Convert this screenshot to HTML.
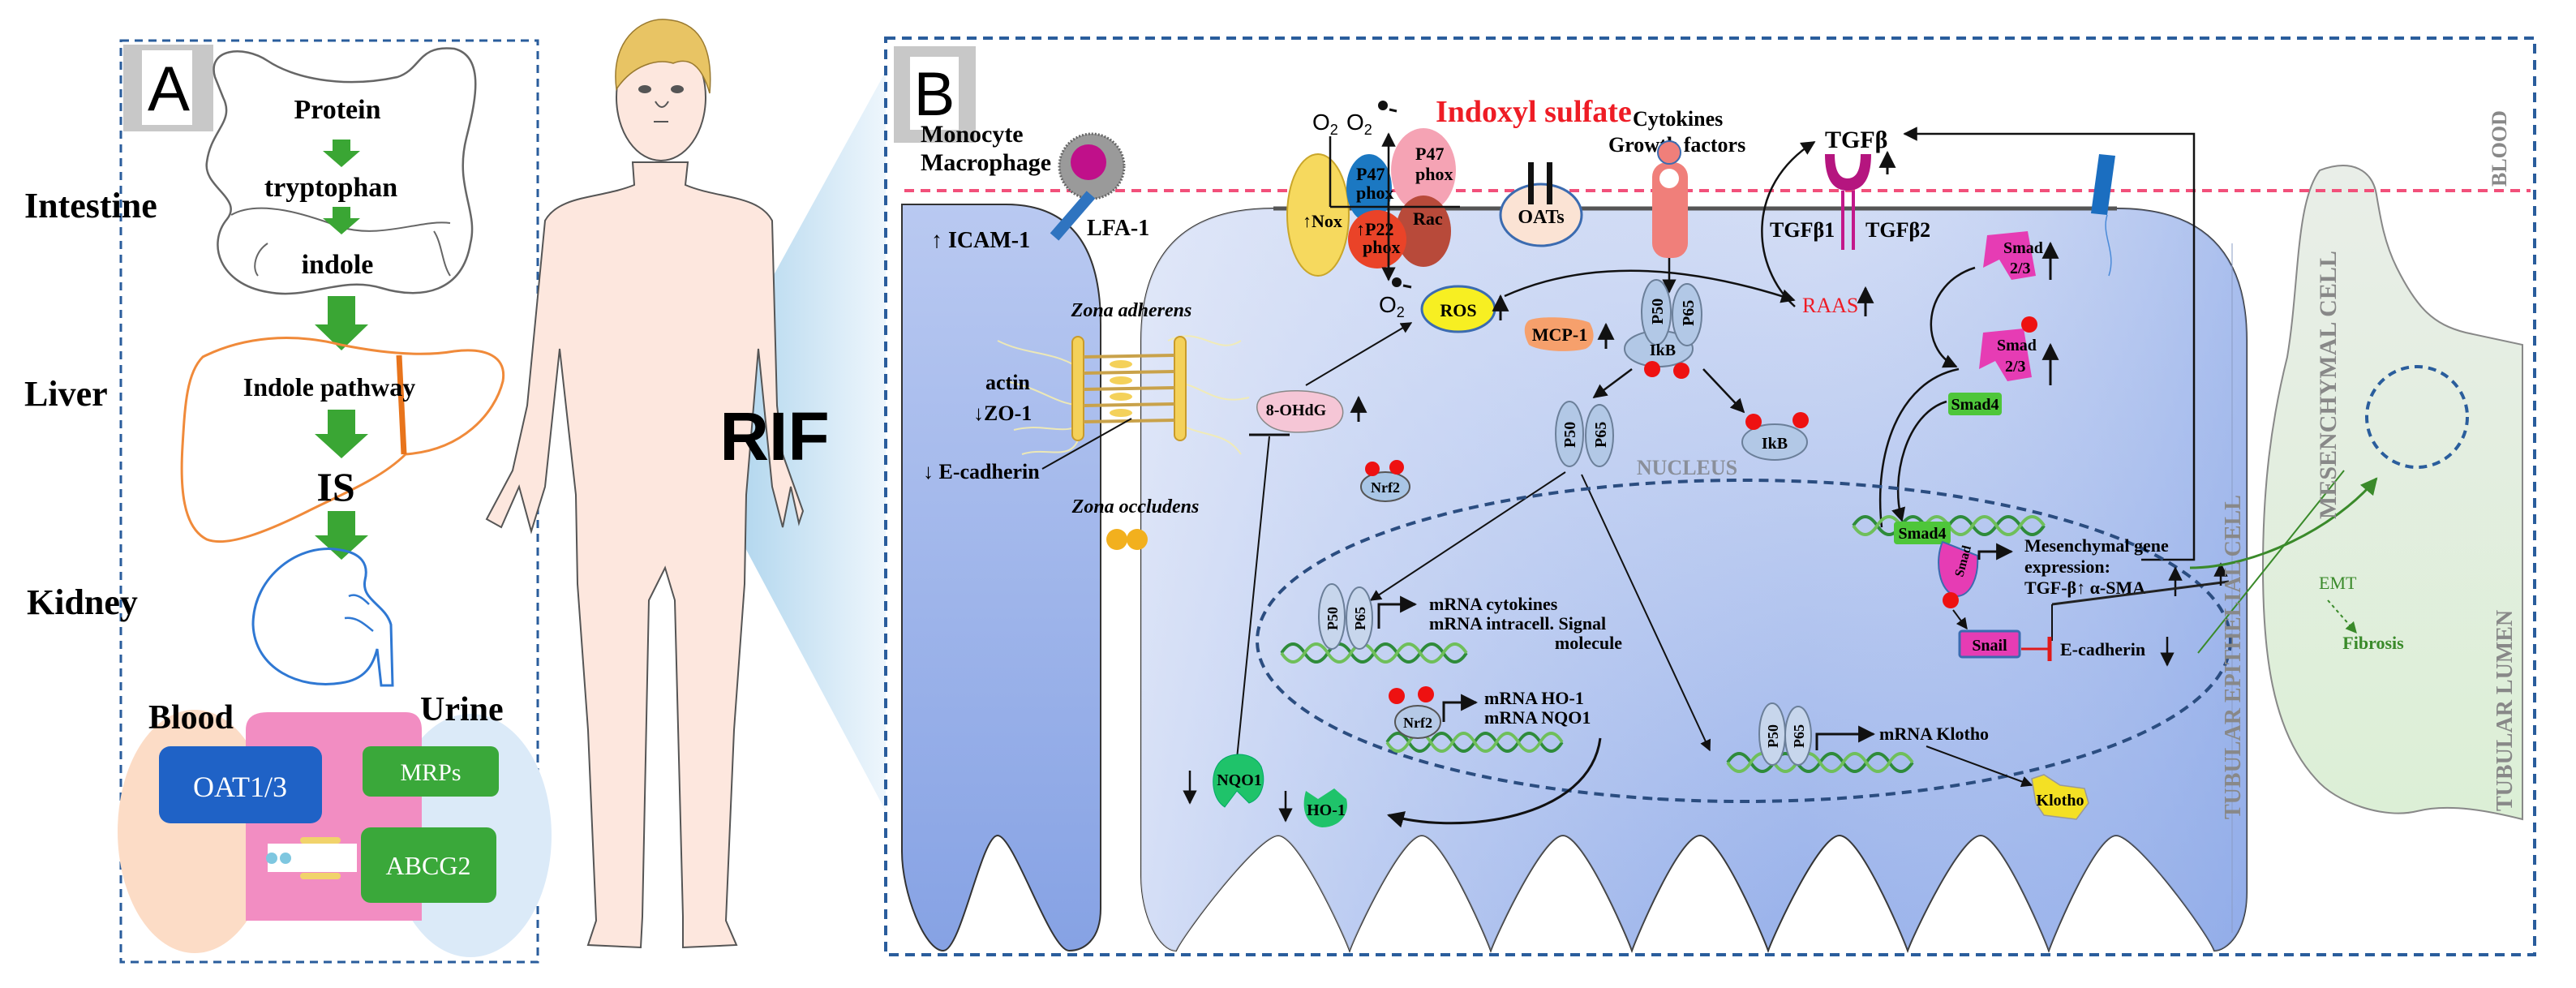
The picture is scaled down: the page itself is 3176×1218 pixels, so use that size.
<!DOCTYPE html>
<html><head><meta charset="utf-8">
<style>
html,body{margin:0;padding:0;background:#fff;}
svg{display:block;}
text{font-family:"Liberation Serif",serif;font-weight:bold;}
.sans{font-family:"Liberation Sans",sans-serif;}
</style></head>
<body>
<svg width="3176" height="1218" viewBox="0 0 3176 1218" xmlns="http://www.w3.org/2000/svg">
<defs>
<marker id="ar" viewBox="0 0 10 10" refX="9" refY="5" markerWidth="7" markerHeight="7" orient="auto-start-reverse"><path d="M0,0 L10,5 L0,10 z" fill="#111"/></marker>
<marker id="ag" viewBox="0 0 10 10" refX="9" refY="5" markerWidth="7" markerHeight="7" orient="auto"><path d="M0,0 L10,5 L0,10 z" fill="#3a8a2a"/></marker>
<linearGradient id="cellg" x1="0" y1="0" x2="0" y2="1"><stop offset="0" stop-color="#d3ddf5"/><stop offset="1" stop-color="#98b1ea"/></linearGradient>
<linearGradient id="cellg2" x1="0" y1="0" x2="1" y2="0"><stop offset="0" stop-color="#e4eaf9" stop-opacity="0.8"/><stop offset="0.6" stop-color="#c2d1f3" stop-opacity="0"/><stop offset="1" stop-color="#8eaae8" stop-opacity="0.6"/></linearGradient>
<linearGradient id="leftg" x1="0" y1="0" x2="0" y2="1"><stop offset="0" stop-color="#b9c9f1"/><stop offset="1" stop-color="#86a2e4"/></linearGradient>
<linearGradient id="wedge" x1="0" y1="0" x2="1" y2="0"><stop offset="0" stop-color="#9ccbe9"/><stop offset="1" stop-color="#eef6fc"/></linearGradient>
<linearGradient id="mes" x1="0" y1="0" x2="0" y2="1"><stop offset="0" stop-color="#e9eee8"/><stop offset="1" stop-color="#dcefd6"/></linearGradient>
<g id="helix"><path d="M0,20 q15,-22 30,0 t30,0 t30,0 t30,0 t30,0 t30,0 t30,0 t30,0" fill="none" stroke="#2e8b3a" stroke-width="4"/><path d="M0,20 q15,22 30,0 t30,0 t30,0 t30,0 t30,0 t30,0 t30,0 t30,0" fill="none" stroke="#6fbf5a" stroke-width="4"/></g>
<path id="maincell" d="M1407,1080 L1407,420 Q1407,257 1570,257 L2610,257 Q2770,257 2770,420 L2770,1100 C2770,1150 2745,1172 2730,1172 C2722,1150 2634,1030 2609,1030 C2584,1030 2534,1150 2526,1172 C2518,1150 2467,1030 2442,1030 C2417,1030 2360,1150 2352,1172 C2344,1150 2293,1030 2268,1030 C2243,1030 2188,1150 2180,1172 C2172,1150 2121,1030 2096,1030 C2071,1030 2020,1150 2012,1172 C2004,1150 1952,1030 1927,1030 C1902,1030 1846,1150 1838,1172 C1830,1150 1778,1030 1753,1030 C1728,1030 1672,1150 1664,1172 C1656,1150 1601,1030 1576,1030 C1551,1030 1460,1150 1450,1172 C1430,1172 1407,1130 1407,1080 Z"/>
</defs>

<!-- ============ PANEL A ============ -->
<rect x="149" y="50" width="514" height="1136" fill="none" stroke="#2a5d9c" stroke-width="3" stroke-dasharray="10 7"/>
<rect x="152" y="55" width="111" height="107" fill="#c8c8c8"/>
<rect x="175" y="62" width="62" height="92" fill="#fff"/>
<text x="208" y="136" text-anchor="middle" class="sans" font-size="78" style="font-weight:normal">A</text>

<path d="M265,95 C255,60 300,55 330,75 C360,95 420,110 490,95 C520,85 515,55 560,60 C600,70 585,130 575,170 C560,230 590,260 580,300 C570,360 520,370 470,355 C420,340 380,370 330,360 C270,350 255,300 280,270 C300,245 250,230 255,200 C260,160 290,150 275,120 Z" fill="none" stroke="#666" stroke-width="2.5"/>
<path d="M285,265 C320,245 380,265 420,280 C470,295 520,270 555,275" fill="none" stroke="#666" stroke-width="2"/>
<path d="M330,300 C315,310 310,330 318,340 M535,285 C545,300 545,325 555,340" fill="none" stroke="#666" stroke-width="2"/>
<text x="30" y="268" font-size="44">Intestine</text>
<text x="416" y="146" text-anchor="middle" font-size="34">Protein</text>
<text x="408" y="242" text-anchor="middle" font-size="34">tryptophan</text>
<text x="416" y="337" text-anchor="middle" font-size="34">indole</text>
<g fill="#3aa634">
<path d="M410,172 h22 v14 h12 l-23,20 l-23,-20 h12z"/>
<path d="M410,255 h22 v14 h12 l-23,20 l-23,-20 h12z"/>
<path d="M404,365 h34 v35 h16 l-33,32 l-33,-32 h16z"/>
<path d="M404,505 h34 v30 h16 l-33,30 l-33,-30 h16z"/>
<path d="M404,630 h34 v30 h16 l-33,30 l-33,-30 h16z"/>
</g>
<path d="M250,440 C300,415 360,410 420,425 C470,435 520,440 560,433 C600,428 625,440 620,470 C610,510 570,555 500,560 C470,590 420,610 380,630 C330,655 280,675 255,665 C225,650 222,600 225,550 C228,500 230,460 250,440 Z" fill="none" stroke="#f08a3a" stroke-width="3"/>
<path d="M492,438 L498,560" stroke="#e8741c" stroke-width="7"/>
<text x="30" y="500" font-size="44">Liver</text>
<text x="406" y="488" text-anchor="middle" font-size="32">Indole pathway</text>
<text x="414" y="617" text-anchor="middle" font-size="50">IS</text>
<path d="M420,678 C370,668 312,710 312,770 C314,825 370,850 420,842 C450,838 460,820 465,800 L470,845 L484,845 L482,770 C475,745 445,740 450,715 C455,695 445,682 420,678 Z" fill="none" stroke="#2f78d3" stroke-width="3"/>
<path d="M430,735 C440,730 450,740 455,745 M425,762 C440,760 450,770 460,778" fill="none" stroke="#2f78d3" stroke-width="2.5"/>
<text x="33" y="757" font-size="44">Kidney</text>
<ellipse cx="240" cy="1025" rx="95" ry="150" fill="#fcdcc6"/>
<ellipse cx="580" cy="1030" rx="100" ry="150" fill="#dbeaf8"/>
<path d="M303,1135 L303,900 Q303,878 330,878 L500,878 Q520,878 520,900 L520,1135 Z" fill="#f28dc2"/>
<path d="M330,1040 L440,1040 L440,1075 L330,1075 Z" fill="#fff"/>
<rect x="370" y="1032" width="50" height="8" rx="4" fill="#f1d36b"/><rect x="370" y="1076" width="50" height="8" rx="4" fill="#f1d36b"/>
<circle cx="335" cy="1058" r="7" fill="#7ec7e0"/><circle cx="352" cy="1058" r="7" fill="#7ec7e0"/>
<text x="183" y="898" font-size="42">Blood</text>
<text x="518" y="888" font-size="42">Urine</text>
<rect x="196" y="920" width="201" height="95" rx="14" fill="#1f62c6"/>
<text x="296" y="982" text-anchor="middle" font-size="36" fill="#fff" style="font-weight:normal">OAT1/3</text>
<rect x="447" y="920" width="168" height="62" rx="10" fill="#3aa83a"/>
<text x="531" y="962" text-anchor="middle" font-size="30" fill="#fff" style="font-weight:normal">MRPs</text>
<rect x="445" y="1020" width="167" height="93" rx="12" fill="#3aa83a"/>
<text x="528" y="1078" text-anchor="middle" font-size="32" fill="#fff" style="font-weight:normal">ABCG2</text>

<!-- ============ PERSON ============ -->
<polygon points="845,537 1092,88 1092,1000" fill="url(#wedge)"/>
<path d="M780,200 L782,228 C740,245 690,240 672,272 L650,500 L632,580 L600,640 L618,650 L640,600 L655,655 L672,600 L690,430 L710,610 L712,720 L725,900 L735,1135 L725,1165 L790,1168 L792,1130 L800,740 L820,700 L832,740 L842,1130 L842,1168 L908,1165 L895,1135 L905,900 L918,720 L920,610 L935,430 L952,600 L965,650 L975,600 L985,645 L990,630 L965,560 L958,500 L952,272 C935,240 885,245 845,228 L848,200 Z" fill="#fde7de" stroke="#555" stroke-width="2"/>
<ellipse cx="815" cy="120" rx="55" ry="78" fill="#fde7de" stroke="#555" stroke-width="2"/>
<path d="M760,110 C752,50 790,22 820,24 C860,26 880,55 875,115 C865,80 850,70 830,78 C810,72 780,80 760,110 Z" fill="#e8c464" stroke="#9a7a30" stroke-width="1.5"/>
<ellipse cx="795" cy="110" rx="8" ry="5" fill="#555"/><ellipse cx="835" cy="110" rx="8" ry="5" fill="#555"/>
<path d="M808,125 q8,14 16,0 M806,150 h18" fill="none" stroke="#555" stroke-width="2"/>
<text x="955" y="567" text-anchor="middle" class="sans" font-size="84">RIF</text>

<!-- ============ PANEL B ============ -->
<rect x="1092" y="47" width="2033" height="1130" fill="none" stroke="#2a5d9c" stroke-width="4" stroke-dasharray="12 8"/>
<path d="M2860,210 C2900,195 2925,210 2930,240 C2935,270 2940,300 2955,330 C2980,380 3000,400 3040,410 L3110,425 L3110,1010 C3070,1000 3020,990 2980,1000 C2940,1010 2880,990 2855,960 C2800,900 2790,800 2790,700 C2790,600 2800,520 2820,440 C2835,350 2830,250 2860,210 Z" fill="url(#mes)" stroke="#888" stroke-width="2"/>
<ellipse cx="2980" cy="514" rx="62" ry="62" fill="none" stroke="#2a5d9c" stroke-width="4" stroke-dasharray="10 7"/>
<path d="M1112,252 L1240,252 Q1357,252 1357,400 L1357,1120 C1357,1160 1335,1172 1318,1172 C1295,1172 1250,1030 1230,1030 C1210,1030 1185,1172 1163,1172 C1140,1172 1112,1100 1112,1050 Z" fill="url(#leftg)" stroke="#333" stroke-width="2"/>
<use href="#maincell" fill="url(#cellg)" stroke="#333" stroke-width="2"/>
<use href="#maincell" fill="url(#cellg2)"/>
<path d="M1570,257 L2610,257" stroke="#555" stroke-width="5"/>
<line x1="2752" y1="300" x2="2752" y2="1150" stroke="#8a9cc4" stroke-width="1"/>
<line x1="1115" y1="235" x2="3120" y2="235" stroke="#f2507a" stroke-width="4" stroke-dasharray="12 8"/>

<rect x="1102" y="57" width="101" height="119" fill="#c8c8c8"/>
<rect x="1122" y="70" width="60" height="90" fill="#fff"/>
<text x="1152" y="142" text-anchor="middle" class="sans" font-size="76" style="font-weight:normal">B</text>

<text x="1135" y="175" font-size="30">Monocyte</text>
<text x="1135" y="210" font-size="30">Macrophage</text>
<circle cx="1346" cy="205" r="40" fill="#9a9a9a" stroke="#666" stroke-width="3" stroke-dasharray="2 2"/>
<circle cx="1342" cy="200" r="22" fill="#c0108a"/>
<path d="M1345,240 L1300,292" stroke="#2f74c0" stroke-width="14"/>
<text x="1340" y="290" font-size="28">LFA-1</text>
<text x="1148" y="305" font-size="28">↑ ICAM-1</text>

<ellipse cx="1625" cy="265" rx="38" ry="75" fill="#f6d95e" stroke="#c9a62a" stroke-width="2"/>
<ellipse cx="1755" cy="210" rx="40" ry="52" fill="#f5a3b4"/>
<ellipse cx="1688" cy="232" rx="28" ry="42" fill="#1b78c2"/>
<ellipse cx="1755" cy="285" rx="34" ry="44" fill="#b84a3a"/>
<ellipse cx="1698" cy="295" rx="36" ry="36" fill="#ea4328"/>
<text x="1745" y="197" font-size="22">P47</text><text x="1745" y="222" font-size="22">phox</text>
<text x="1672" y="222" font-size="22">P47</text><text x="1672" y="245" font-size="22">phox</text>
<text x="1606" y="280" font-size="22">↑Nox</text>
<text x="1672" y="290" font-size="22">↑P22</text><text x="1680" y="312" font-size="22">phox</text>
<text x="1742" y="277" font-size="22">Rac</text>
<path d="M1640,255 L1640,168 M1640,255 L1800,255" stroke="#111" stroke-width="2.5" fill="none"/>
<line x1="1712" y1="340" x2="1712" y2="165" stroke="#111" stroke-width="2.5" marker-end="url(#ar)"/>
<line x1="1712" y1="250" x2="1712" y2="345" stroke="#111" stroke-width="2.5" marker-end="url(#ar)"/>
<text x="1618" y="160" class="sans" font-size="28" style="font-weight:normal">O<tspan font-size="18" dy="6">2</tspan></text>
<text x="1660" y="160" class="sans" font-size="28" style="font-weight:normal">O<tspan font-size="18" dy="6">2</tspan></text>
<circle cx="1705" cy="130" r="6" fill="#111"/><line x1="1713" y1="135" x2="1722" y2="137" stroke="#111" stroke-width="3"/>
<text x="1700" y="385" class="sans" font-size="28" style="font-weight:normal">O<tspan font-size="18" dy="6">2</tspan></text>
<circle cx="1722" cy="348" r="6" fill="#111"/><line x1="1730" y1="352" x2="1740" y2="354" stroke="#111" stroke-width="3"/>

<text x="1770" y="150" font-size="38" fill="#ee1c25">Indoxyl sulfate</text>
<text x="2013" y="155" font-size="26">Cytokines</text>
<text x="1983" y="187" font-size="26">Growth factors</text>

<ellipse cx="1900" cy="265" rx="50" ry="38" fill="#fbe3d4" stroke="#3b6bb0" stroke-width="3"/>
<rect x="1884" y="200" width="7" height="52" fill="#111"/><rect x="1907" y="200" width="7" height="52" fill="#111"/>
<text x="1900" y="275" text-anchor="middle" font-size="24">OATs</text>

<rect x="2037" y="200" width="44" height="118" rx="18" fill="#f07f7a"/>
<circle cx="2058" cy="188" r="14" fill="#f07f7a" stroke="#3b6bb0" stroke-width="2"/>
<circle cx="2058" cy="220" r="12" fill="#fff"/>
<line x1="2058" y1="318" x2="2058" y2="360" stroke="#111" stroke-width="2.5" marker-end="url(#ar)"/>

<text x="2250" y="182" font-size="30">TGFβ</text>
<line x1="2327" y1="215" x2="2327" y2="188" stroke="#111" stroke-width="3" marker-end="url(#ar)"/>
<path d="M2250,190 Q2250,235 2278,235 Q2307,235 2307,190 L2294,190 Q2294,220 2278,220 Q2262,220 2262,190 Z" fill="#b5157f"/>
<line x1="2272" y1="235" x2="2272" y2="308" stroke="#c3198a" stroke-width="4"/>
<line x1="2285" y1="235" x2="2285" y2="308" stroke="#c3198a" stroke-width="4"/>
<text x="2182" y="292" font-size="26">TGFβ1</text>
<text x="2300" y="292" font-size="26">TGFβ2</text>
<path d="M2588,190 L2608,192 L2598,265 L2578,263 Z" fill="#1b6ec0"/>
<path d="M2598,265 C2590,290 2610,310 2600,340" fill="none" stroke="#4a8ad8" stroke-width="1.5"/>
<path d="M2640,690 L2705,690 L2705,165 L2348,165" fill="none" stroke="#111" stroke-width="2.5" marker-end="url(#ar)"/>

<ellipse cx="1798" cy="381" rx="45" ry="28" fill="#f7ef22" stroke="#3b6bb0" stroke-width="3"/>
<text x="1798" y="390" text-anchor="middle" font-size="22">ROS</text>
<line x1="1850" y1="395" x2="1850" y2="365" stroke="#111" stroke-width="3" marker-end="url(#ar)"/>
<path d="M1885,395 C1900,388 1950,392 1960,398 C1968,412 1965,425 1955,430 C1930,436 1895,432 1885,425 C1878,412 1878,400 1885,395 Z" fill="#f6a06c"/>
<text x="1923" y="420" text-anchor="middle" font-size="22">MCP-1</text>
<line x1="1980" y1="430" x2="1980" y2="400" stroke="#111" stroke-width="3" marker-end="url(#ar)"/>
<path d="M1855,365 Q2000,300 2212,370" fill="none" stroke="#111" stroke-width="2.5" marker-end="url(#ar)"/>
<text x="2222" y="385" font-size="26" fill="#ee1c25" style="font-weight:normal">RAAS</text>
<line x1="2300" y1="390" x2="2300" y2="355" stroke="#111" stroke-width="3" marker-end="url(#ar)"/>
<path d="M2213,378 C2160,330 2150,230 2237,175" fill="none" stroke="#111" stroke-width="2.5" marker-end="url(#ar)"/>

<ellipse cx="2045" cy="430" rx="42" ry="22" fill="#b2c8e6" stroke="#6b7f99" stroke-width="2"/>
<ellipse cx="2042" cy="385" rx="18" ry="40" fill="#b2c8e6" stroke="#6b7f99" stroke-width="2"/>
<ellipse cx="2080" cy="388" rx="18" ry="38" fill="#b2c8e6" stroke="#6b7f99" stroke-width="2"/>
<text x="2050" y="438" text-anchor="middle" font-size="20">IkB</text>
<text transform="translate(2050,400) rotate(-90)" font-size="20">P50</text>
<text transform="translate(2088,402) rotate(-90)" font-size="20">P65</text>
<circle cx="2037" cy="455" r="10" fill="#ee1111"/><circle cx="2073" cy="457" r="10" fill="#ee1111"/>
<line x1="2012" y1="455" x2="1965" y2="490" stroke="#111" stroke-width="2.5" marker-end="url(#ar)"/>
<line x1="2100" y1="455" x2="2150" y2="508" stroke="#111" stroke-width="2.5" marker-end="url(#ar)"/>
<ellipse cx="1935" cy="535" rx="17" ry="40" fill="#b2c8e6" stroke="#6b7f99" stroke-width="2"/>
<ellipse cx="1972" cy="537" rx="17" ry="38" fill="#b2c8e6" stroke="#6b7f99" stroke-width="2"/>
<text transform="translate(1942,552) rotate(-90)" font-size="20">P50</text>
<text transform="translate(1980,552) rotate(-90)" font-size="20">P65</text>
<ellipse cx="2188" cy="545" rx="40" ry="22" fill="#b2c8e6" stroke="#6b7f99" stroke-width="2"/>
<text x="2188" y="553" text-anchor="middle" font-size="20">IkB</text>
<circle cx="2162" cy="520" r="10" fill="#ee1111"/><circle cx="2220" cy="518" r="10" fill="#ee1111"/>
<text x="2080" y="585" text-anchor="middle" font-size="26" fill="#8a8f9a">NUCLEUS</text>
<line x1="1930" y1="582" x2="1690" y2="740" stroke="#111" stroke-width="2" marker-end="url(#ar)"/>
<line x1="1950" y1="585" x2="2108" y2="925" stroke="#111" stroke-width="2" marker-end="url(#ar)"/>

<path d="M2450,290 L2500,285 L2510,340 L2480,345 L2465,320 L2445,330 Z" fill="#e63cb4"/>
<text x="2470" y="312" font-size="20">Smad</text><text x="2478" y="337" font-size="20">2/3</text>
<line x1="2528" y1="345" x2="2528" y2="300" stroke="#111" stroke-width="3" marker-end="url(#ar)"/>
<path d="M2445,410 L2495,405 L2505,465 L2475,470 L2460,445 L2440,455 Z" fill="#e63cb4"/>
<circle cx="2502" cy="400" r="10" fill="#ee1111"/>
<text x="2462" y="432" font-size="20">Smad</text><text x="2472" y="458" font-size="20">2/3</text>
<line x1="2528" y1="475" x2="2528" y2="425" stroke="#111" stroke-width="3" marker-end="url(#ar)"/>
<path d="M2435,330 C2370,350 2365,430 2412,452" fill="none" stroke="#111" stroke-width="2.5" marker-end="url(#ar)"/>
<rect x="2402" y="484" width="66" height="28" rx="4" fill="#4ec63a"/>
<text x="2435" y="505" text-anchor="middle" font-size="20">Smad4</text>
<path d="M2400,495 C2350,510 2330,590 2345,642" fill="none" stroke="#111" stroke-width="2.5" marker-end="url(#ar)"/>
<path d="M2415,455 C2340,470 2310,560 2320,650" fill="none" stroke="#111" stroke-width="2.5"/>

<ellipse cx="2150" cy="790" rx="600" ry="198" fill="none" stroke="#2b4d80" stroke-width="4" stroke-dasharray="12 8"/>
<text x="1395" y="390" text-anchor="middle" font-size="24" font-style="italic">Zona adherens</text>
<g stroke="#f3ecb0" stroke-width="2" fill="none" opacity="0.9">
<path d="M1230,420 C1270,440 1300,430 1340,460 M1240,470 C1290,480 1300,500 1340,500 M1250,530 C1290,520 1310,540 1340,520 M1440,420 C1480,400 1500,440 1530,420 M1450,470 C1490,480 1500,500 1540,490 M1450,520 C1480,540 1510,530 1530,560 M1260,560 C1290,550 1320,570 1330,540"/>
</g>
<rect x="1322" y="415" width="14" height="128" rx="7" fill="#f4d15a" stroke="#c99b2a" stroke-width="2"/>
<rect x="1448" y="415" width="14" height="128" rx="7" fill="#f4d15a" stroke="#c99b2a" stroke-width="2"/>
<g stroke="#c9a24a" stroke-width="4"><line x1="1336" y1="440" x2="1448" y2="438"/><line x1="1336" y1="460" x2="1448" y2="458"/><line x1="1336" y1="480" x2="1448" y2="478"/><line x1="1336" y1="500" x2="1448" y2="498"/><line x1="1336" y1="520" x2="1448" y2="518"/></g>
<g fill="#f4d15a"><ellipse cx="1382" cy="449" rx="14" ry="5"/><ellipse cx="1382" cy="469" rx="14" ry="5"/><ellipse cx="1382" cy="489" rx="14" ry="5"/><ellipse cx="1382" cy="509" rx="14" ry="5"/></g>
<text x="1215" y="480" font-size="26">actin</text>
<text x="1200" y="518" font-size="26">↓ZO-1</text>
<text x="1138" y="590" font-size="26">↓ E-cadherin</text>
<line x1="1285" y1="578" x2="1395" y2="516" stroke="#111" stroke-width="2"/>
<text x="1400" y="632" text-anchor="middle" font-size="24" font-style="italic">Zona occludens</text>
<circle cx="1377" cy="665" r="13" fill="#f2b01e"/><circle cx="1402" cy="665" r="13" fill="#f2b01e"/>

<path d="M1555,490 C1580,478 1620,480 1645,490 C1660,500 1660,520 1640,528 C1610,535 1580,535 1565,525 C1550,515 1545,500 1555,490 Z" fill="#f5c6d6" stroke="#888" stroke-width="1.5"/>
<text x="1598" y="512" text-anchor="middle" font-size="20">8-OHdG</text>
<line x1="1675" y1="520" x2="1675" y2="490" stroke="#111" stroke-width="3" marker-end="url(#ar)"/>
<line x1="1610" y1="475" x2="1740" y2="398" stroke="#111" stroke-width="2" marker-end="url(#ar)"/>
<line x1="1525" y1="935" x2="1565" y2="538" stroke="#111" stroke-width="2"/>
<line x1="1540" y1="536" x2="1590" y2="536" stroke="#111" stroke-width="3"/>
<ellipse cx="1708" cy="600" rx="30" ry="18" fill="#a9c6e6" stroke="#555" stroke-width="2"/>
<text x="1708" y="607" text-anchor="middle" font-size="18">Nrf2</text>
<circle cx="1692" cy="578" r="9" fill="#ee1111"/><circle cx="1722" cy="576" r="9" fill="#ee1111"/>

<use href="#helix" transform="translate(1580,785) scale(0.95,1)"/>
<ellipse cx="1642" cy="760" rx="16" ry="40" fill="#c7d6ec" stroke="#6b7f99" stroke-width="2"/>
<ellipse cx="1676" cy="762" rx="16" ry="38" fill="#c7d6ec" stroke="#6b7f99" stroke-width="2"/>
<text transform="translate(1649,777) rotate(-90)" font-size="18">P50</text>
<text transform="translate(1683,777) rotate(-90)" font-size="18">P65</text>
<path d="M1700,775 L1700,745 L1745,745" fill="none" stroke="#111" stroke-width="3" marker-end="url(#ar)"/>
<text x="1762" y="752" font-size="22">mRNA cytokines</text>
<text x="1762" y="776" font-size="22">mRNA intracell. Signal</text>
<text x="2000" y="800" text-anchor="end" font-size="22">molecule</text>

<use href="#helix" transform="translate(1710,895) scale(0.9,1)"/>
<ellipse cx="1748" cy="890" rx="28" ry="20" fill="#b5c9e6" stroke="#555" stroke-width="2"/>
<text x="1748" y="897" text-anchor="middle" font-size="18">Nrf2</text>
<circle cx="1722" cy="858" r="10" fill="#ee1111"/><circle cx="1758" cy="856" r="10" fill="#ee1111"/>
<path d="M1780,890 L1780,866 L1820,866" fill="none" stroke="#111" stroke-width="3" marker-end="url(#ar)"/>
<text x="1830" y="868" font-size="22">mRNA HO-1</text>
<text x="1830" y="892" font-size="22">mRNA NQO1</text>
<path d="M1973,910 C1960,1010 1800,1030 1712,1005" fill="none" stroke="#111" stroke-width="3" marker-end="url(#ar)"/>

<use href="#helix" transform="translate(2130,920) scale(0.95,1)"/>
<ellipse cx="2185" cy="905" rx="16" ry="38" fill="#c7d6ec" stroke="#6b7f99" stroke-width="2"/>
<ellipse cx="2217" cy="907" rx="16" ry="36" fill="#c7d6ec" stroke="#6b7f99" stroke-width="2"/>
<text transform="translate(2192,922) rotate(-90)" font-size="18">P50</text>
<text transform="translate(2224,922) rotate(-90)" font-size="18">P65</text>
<path d="M2240,925 L2240,905 L2310,905" fill="none" stroke="#111" stroke-width="3" marker-end="url(#ar)"/>
<text x="2317" y="912" font-size="22">mRNA Klotho</text>
<line x1="2375" y1="920" x2="2505" y2="968" stroke="#111" stroke-width="2" marker-end="url(#ar)"/>
<path d="M2505,960 L2520,955 L2540,968 L2570,972 L2575,990 L2560,1010 L2520,1005 L2510,990 Z" fill="#f4e024" stroke="#999" stroke-width="1.5"/>
<text x="2540" y="993" text-anchor="middle" font-size="20">Klotho</text>

<path d="M1500,945 C1510,925 1545,925 1555,945 C1562,965 1555,985 1540,990 L1525,975 L1510,995 C1495,985 1492,960 1500,945 Z" fill="#1fc36a" stroke="#0a6" stroke-width="1"/>
<text x="1528" y="968" text-anchor="middle" font-size="20">NQO1</text>
<line x1="1467" y1="950" x2="1467" y2="990" stroke="#111" stroke-width="2.5" marker-end="url(#ar)"/>
<path d="M1610,975 L1625,985 L1645,972 L1660,985 C1665,1005 1650,1020 1630,1020 C1612,1018 1603,1000 1610,975 Z" fill="#1fc36a"/>
<text x="1635" y="1005" text-anchor="middle" font-size="20">HO-1</text>
<line x1="1585" y1="975" x2="1585" y2="1012" stroke="#111" stroke-width="2.5" marker-end="url(#ar)"/>

<use href="#helix" transform="translate(2285,628) scale(0.98,1)"/>
<rect x="2335" y="643" width="70" height="28" rx="4" fill="#4ec63a"/>
<text x="2370" y="664" text-anchor="middle" font-size="20">Smad4</text>
<path d="M2395,668 C2385,690 2390,730 2412,735 C2430,735 2440,710 2438,685 Z" fill="#e63cb4" stroke="#3b6bb0" stroke-width="2"/>
<text transform="translate(2420,712) rotate(-75)" font-size="16">Smad</text>
<path d="M2440,690 L2440,680 L2480,680" fill="none" stroke="#111" stroke-width="3" marker-end="url(#ar)"/>
<text x="2496" y="680" font-size="22">Mesenchymal gene</text>
<text x="2496" y="706" font-size="22">expression:</text>
<text x="2496" y="732" font-size="22">TGF-β↑  α-SMA</text>
<line x1="2682" y1="735" x2="2682" y2="700" stroke="#111" stroke-width="2.5" marker-end="url(#ar)"/>
<line x1="2530" y1="745" x2="2748" y2="717" stroke="#222" stroke-width="3"/>
<line x1="2530" y1="745" x2="2530" y2="790" stroke="#111" stroke-width="2"/>
<line x1="2738" y1="722" x2="2738" y2="695" stroke="#111" stroke-width="2.5" marker-end="url(#ar)"/>
<circle cx="2405" cy="740" r="10" fill="#ee1111"/>
<line x1="2408" y1="752" x2="2425" y2="775" stroke="#111" stroke-width="2" marker-end="url(#ar)"/>
<rect x="2416" y="778" width="74" height="32" rx="3" fill="#e63cb4" stroke="#3b6bb0" stroke-width="3"/>
<text x="2453" y="802" text-anchor="middle" font-size="20">Snail</text>
<line x1="2492" y1="800" x2="2525" y2="800" stroke="#e01a1a" stroke-width="3"/>
<line x1="2527" y1="785" x2="2527" y2="815" stroke="#e01a1a" stroke-width="5"/>
<text x="2540" y="808" font-size="22">E-cadherin</text>
<line x1="2672" y1="785" x2="2672" y2="820" stroke="#111" stroke-width="2.5" marker-end="url(#ar)"/>

<path d="M2700,700 C2780,700 2880,650 2930,590" fill="none" stroke="#3a8a2a" stroke-width="3" marker-end="url(#ag)"/>
<line x1="2710" y1="805" x2="2890" y2="580" stroke="#3a8a2a" stroke-width="2"/>
<text x="2859" y="726" font-size="22" fill="#3a8a2a" style="font-weight:normal">EMT</text>
<line x1="2870" y1="740" x2="2905" y2="780" stroke="#3a8a2a" stroke-width="2" stroke-dasharray="4 4" marker-end="url(#ag)"/>
<text x="2926" y="800" text-anchor="middle" font-size="22" fill="#3a8a2a">Fibrosis</text>

<text transform="translate(3090,230) rotate(-90)" font-size="26" fill="#888">BLOOD</text>
<text transform="translate(2880,640) rotate(-90)" font-size="30" fill="#888">MESENCHYMAL CELL</text>
<text transform="translate(2762,1010) rotate(-90)" font-size="28" fill="#888">TUBULAR EPITHELIAL CELL</text>
<text transform="translate(3097,1000) rotate(-90)" font-size="28" fill="#888">TUBULAR LUMEN</text>
</svg>
</body></html>
